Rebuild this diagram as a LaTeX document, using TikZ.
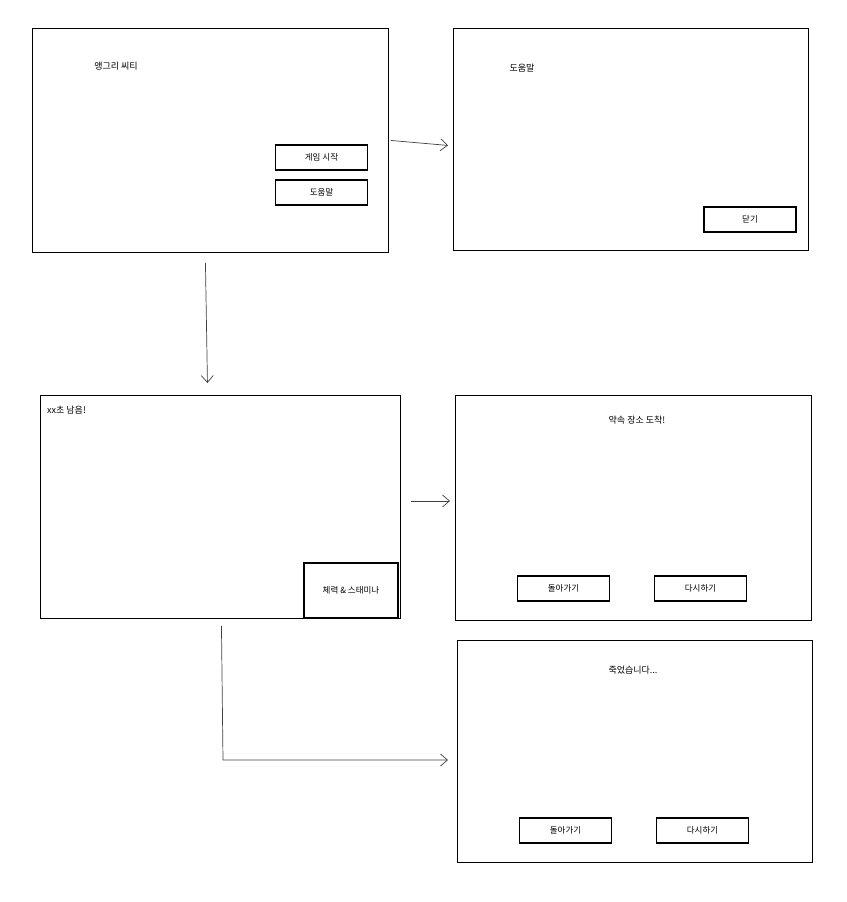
\documentclass[tikz,border=0pt]{standalone}
\usepackage{fontspec}
\setmainfont{Noto Sans CJK KR}
\usetikzlibrary{arrows.meta}
\begin{document}
\begin{tikzpicture}[x=1pt,y=-1pt,
  frame/.style={draw=black,line width=0.9pt,inner sep=0pt,anchor=north west},
  btn/.style={draw=black,line width=1.1pt,inner sep=0pt,minimum width=92pt,minimum height=25pt,font=\fontsize{8.5}{10}\selectfont},
  lbl/.style={font=\fontsize{9}{10}\selectfont,inner sep=0pt},
  arr/.style={draw=black!75,line width=0.7pt,-{Straight Barb[length=7pt,width=12pt]}}]
\useasboundingbox (0,0) rectangle (846,902);
% frames
\node[frame,minimum width=356pt,minimum height=224pt] (f1) at (32,28) {};
\node[frame,minimum width=355pt,minimum height=222pt] (f2) at (453,28) {};
\node[frame,minimum width=360pt,minimum height=223pt] (f4) at (40,395) {};
\node[frame,minimum width=356pt,minimum height=225pt] (f5) at (455,395) {};
\node[frame,minimum width=355pt,minimum height=222pt] (f6) at (457,640) {};
% texts
\node[lbl] (t1) at (116,66) {앵그리 씨티};
\node[lbl] (t2) at (522,68) {도움말};
\node[lbl,anchor=west] (t4) at (47,410) {xx초 남음!};
\node[lbl] (t5) at (637,420) {약속 장소 도착!};
\node[lbl] (t6) at (633,670) {죽었습니다...};
% buttons
\node[btn] (b1) at (321.5,157.5) {게임 시작};
\node[btn] (b2) at (321.5,192.5) {도움말};
\node[btn] (b3) at (750,219.5) {닫기};
\node[btn,minimum width=94pt,minimum height=55pt] (b4) at (351,590.5) {체력 \& 스태미나};
\node[btn] (b5) at (563.5,588.5) {돌아가기};
\node[btn] (b6) at (700.5,588.5) {다시하기};
\node[btn] (b7) at (565.5,830.5) {돌아가기};
\node[btn] (b8) at (702.5,830.5) {다시하기};
% connectors
\draw[arr] ([xshift=2pt,yshift=0pt]f1.east) -- ([xshift=-5pt,yshift=-6pt]f2.west);
\draw[arr] ([xshift=-5pt,yshift=-10pt]f1.south) -- ([xshift=-13pt,yshift=12pt]f4.north);
\draw[arr] ([xshift=10pt,yshift=6pt]f4.east) -- ([xshift=-5pt,yshift=7pt]f5.west);
\coordinate (c1) at (223,760);
\draw[arr] ([xshift=1pt,yshift=-7pt]f4.south) -- (c1) -- ([xshift=-9pt]c1 -| f6.west);
\end{tikzpicture}
\end{document}
